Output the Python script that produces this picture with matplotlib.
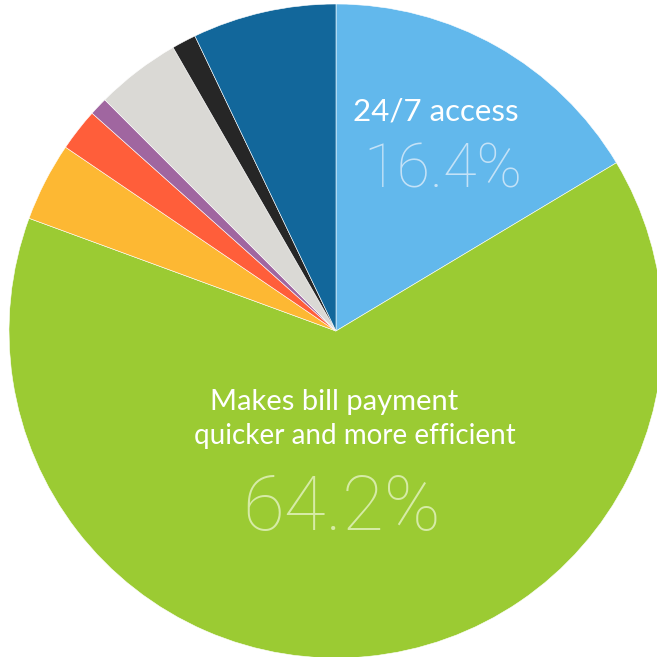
import matplotlib.pyplot as plt

# share of respondents by reason (clockwise from 12 o'clock)
reasons = [
    "24/7 access",
    "Makes bill payment quicker and more efficient",
    "Other 1", "Other 2", "Other 3", "Other 4", "Other 5", "Other 6",
]
shares = [16.4, 64.2, 3.9, 2.1, 0.9, 4.2, 1.2, 7.1]
colors = ["#62b8ec", "#9bcb33", "#fdb833", "#ff5e3a", "#a066a0",
          "#dad9d5", "#262626", "#12679b"]

W = H = 657
fig = plt.figure(figsize=(W / 100, H / 100), dpi=100)
ax = fig.add_axes([0, 0, 1, 1])

cx, cy, r = 336, H - 331, 327
ax.pie(shares, colors=colors, startangle=90, counterclock=False,
       center=(cx, cy), radius=r, frame=True,
       wedgeprops=dict(linewidth=0.4, edgecolor="#ffffff"))
ax.set_xlim(0, W)
ax.set_ylim(0, H)
ax.axis("off")

font = "Lato"
thin = "Roboto"

# 24/7 access label
ax.text(436, H - 111, reasons[0], ha="center", va="center",
        color="white", fontsize=22.5, family=font)
ax.text(443, H - 171, f"{shares[0]}%", ha="center", va="center",
        color="#c4e2f7", fontsize=44, family=thin, fontweight="light")

# bill payment label
ax.text(334, H - 402, "Makes bill payment", ha="center", va="center",
        color="white", fontsize=21, family=font)
ax.text(355, H - 436, "quicker and more efficient", ha="center", va="center",
        color="white", fontsize=20, family=font)
ax.text(342, H - 509, f"{shares[1]}%", ha="center", va="center",
        color="#d6eba6", fontsize=55, family=thin, fontweight="light")

fig.savefig("out.png", dpi=100)
